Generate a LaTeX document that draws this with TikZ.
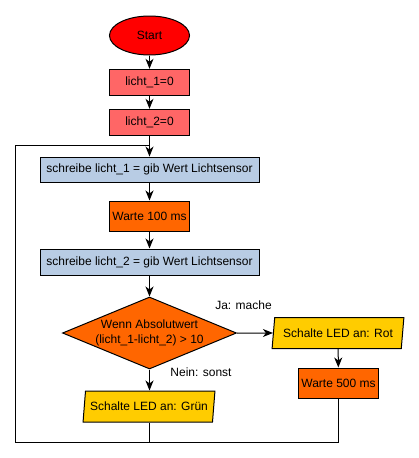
\documentclass[tikz,border=0pt]{standalone}
\usepackage{fontspec}
\setmainfont{Liberation Sans}
\usetikzlibrary{shapes,arrows.meta,positioning,calc}
\definecolor{startred}{RGB}{255,0,0}
\definecolor{initpink}{RGB}{255,102,102}
\definecolor{readblue}{RGB}{184,204,228}
\definecolor{waitorange}{RGB}{255,102,0}
\definecolor{ledyellow}{RGB}{255,204,0}

\tikzset{
    box/.style={draw, line width=1pt, inner sep=0pt, minimum height=26, font=\fontsize{12}{14.5}\selectfont},
    initbox/.style={box, fill=initpink, minimum width=80},
    readbox/.style={box, fill=readblue, minimum width=219},
    waitbox/.style={box, fill=waitorange, minimum width=80, minimum height=30},
    iobox/.style={box, trapezium, trapezium left angle=75.5, trapezium right angle=104.5,
        trapezium stretches=true, fill=ledyellow, minimum width=132, minimum height=31},
    flow/.style={line width=1pt, -{Stealth[length=10pt,width=8pt,inset=3pt]}},
    lbl/.style={font=\fontsize{12}{14.5}\selectfont}
}

\begin{document}
\begin{tikzpicture}[x=1pt, y=-1pt]
    \useasboundingbox (0,0) rectangle (419,458);

    % Init
    \node[box, ellipse, fill=startred, minimum width=80, minimum height=39] (start) at (149.5,35.5) {Start};
    \node[initbox] (l1) at (149.5,82.3) {licht\_1=0};
    \node[initbox] (l2) at (149.5,122.3) {licht\_2=0};

    % Loop body
    \node[readbox, minimum height=25.5] (s1) at (149.5,169.8) {schreibe licht\_1 = gib Wert Lichtsensor};
    \node[waitbox] (w1) at (149.5,216) {Warte 100 ms};
    \node[readbox] (s2) at (149.5,262) {schreibe licht\_2 = gib Wert Lichtsensor};
    \node[box, diamond, fill=waitorange, aspect=2.4, minimum width=174, minimum height=72, align=center] (dec) at (149.5,333)
        {Wenn Absolutwert\\(licht\_1-licht\_2) > 10};

    % Branches
    \node[iobox] (rot) at (338,333) {Schalte LED an: Rot};
    \node[waitbox] (w2) at (338.5,383) {Warte 500 ms};
    \node[iobox] (gruen) at (149,406.5) {Schalte LED an: Grün};

    \node[lbl] (ja) at (243.5,305) {Ja: mache};
    \node[lbl] (nein) at (201,372.5) {Nein: sonst};

    % Loop points
    \coordinate (join) at (149.5,145.3);
    \coordinate (corner) at (15.7,442);

    % Arrows
    \draw[flow] (start) -- (l1);
    \draw[flow] (l1) -- (l2);
    \draw[flow] (l2) -- (s1);
    \draw[flow] (s1) -- (w1);
    \draw[flow] (w1) -- (s2);
    \draw[flow] (s2) -- (dec);
    \draw[flow] (dec.east) -- (rot);
    \draw[flow] (rot) -- (w2);
    \draw[flow] (dec.south) -- (dec.south |- gruen.north);

    % Back to the start of the loop
    \draw[line width=1pt] (gruen.south) |- (corner) |- (join);
    \draw[line width=1pt] (w2.south) |- (gruen.south |- corner);
\end{tikzpicture}
\end{document}
